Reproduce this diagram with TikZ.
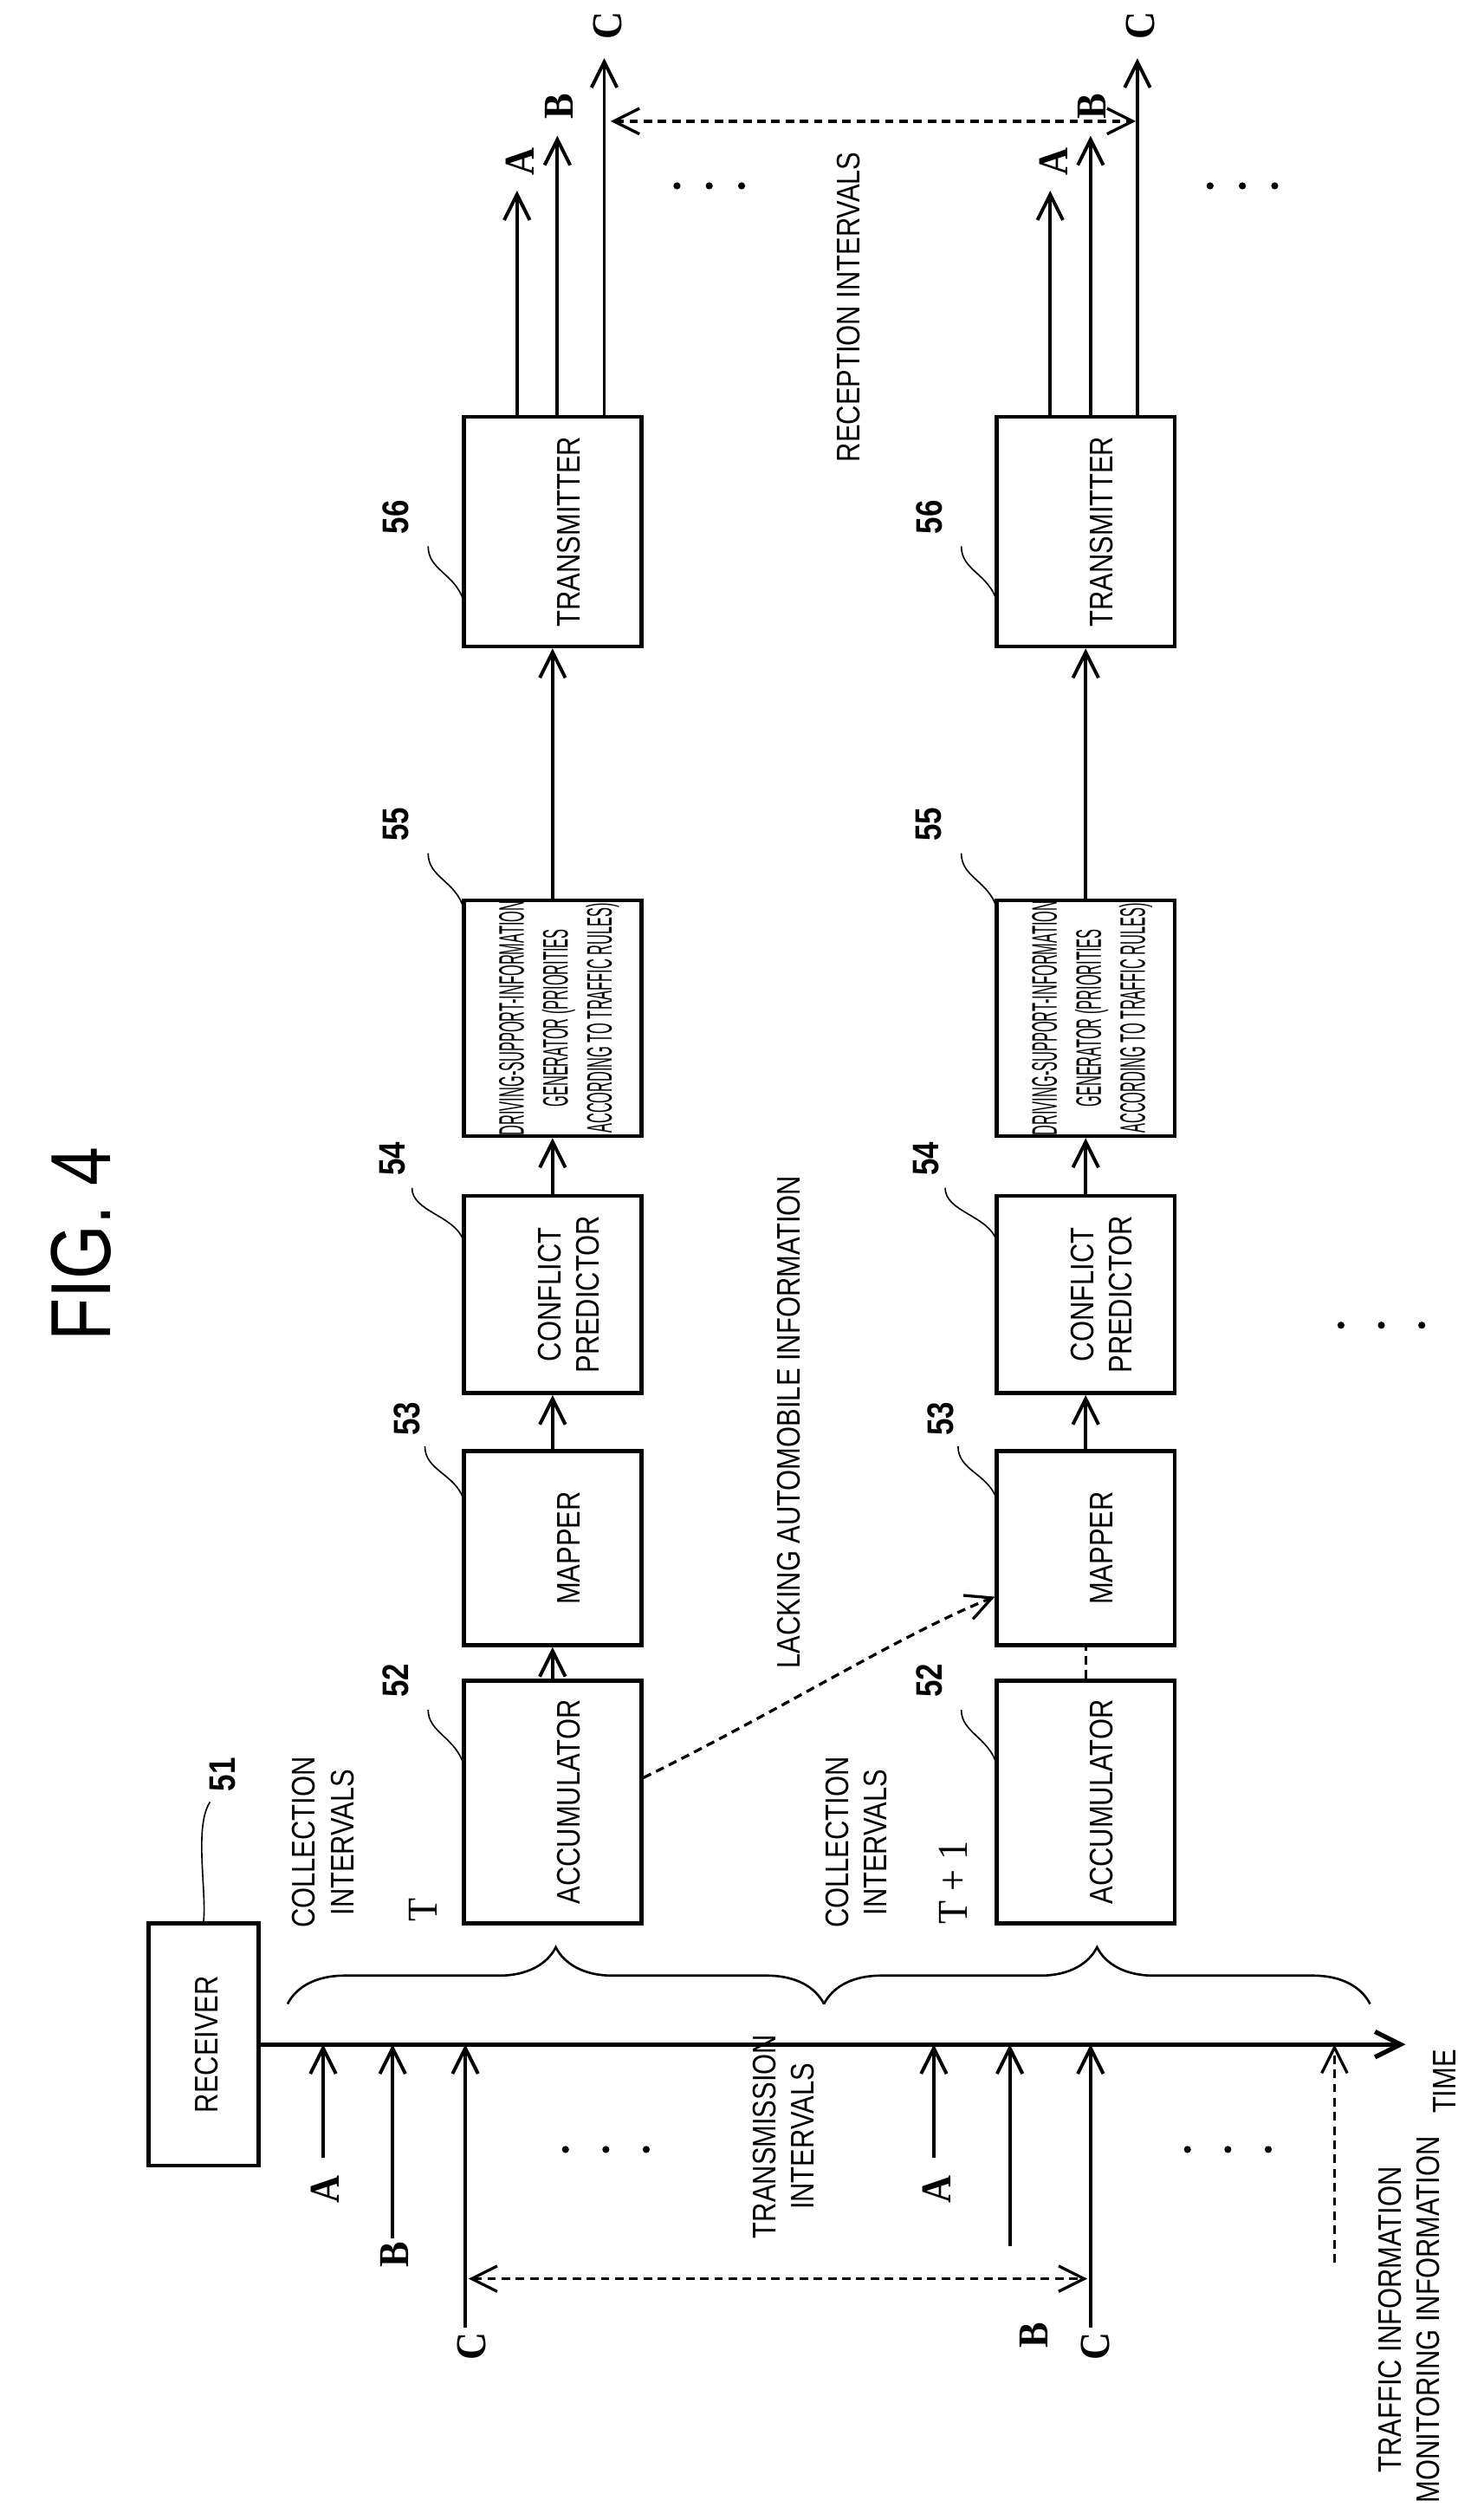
\documentclass[tikz,border=0pt]{standalone}
\usepackage{fontspec}
\setmainfont{Liberation Sans}[FakeStretch=0.82]
\newfontfamily\abcfont{Liberation Serif}[FakeStretch=0.9]
\newfontfamily\narrowfont{Liberation Sans}[FakeStretch=0.4]
\usetikzlibrary{positioning,arrows.meta,decorations.pathreplacing}

\tikzset{
  blk/.style={draw, line width=1.4pt, rotate=90, inner sep=0pt},
  txt/.style={rotate=90, align=center, font=\fontsize{11.5}{13.5}\selectfont},
  ref/.style={rotate=90, font=\fontsize{13}{13}\selectfont\bfseries},
  abc/.style={rotate=90, font=\fontsize{15}{15}\selectfont\abcfont\bfseries},
  sig/.style={line width=1.2pt, -{Straight Barb[length=9pt,width=9pt]}},
  dsh/.style={densely dashed, line width=1pt},
  lead/.style={line width=0.5pt},
}

\begin{document}
\begin{tikzpicture}[x=0.02cm, y=-0.02cm]
  \useasboundingbox (0,0) rectangle (910,1559.3);

  \node[rotate=90, font=\fontsize{30}{30}\selectfont] (fig) at (50,770) {FIG. 4};

  % two processing rows
  \foreach \r/\cx in {1/342, 2/672} {
    \node[blk, minimum width=3cm, minimum height=2.2cm] (acc\r) at (\cx,1115) {};
    \node[blk, minimum width=2.4cm, minimum height=2.2cm] (map\r) at (\cx,958) {};
    \node[blk, minimum width=2.44cm, minimum height=2.2cm] (con\r) at (\cx,801) {};
    \node[blk, minimum width=2.92cm, minimum height=2.2cm] (drv\r) at (\cx,630) {};
    \node[blk, minimum width=2.84cm, minimum height=2.2cm] (trn\r) at (\cx,329) {};
    \node[txt] at (\cx+10,1115) {ACCUMULATOR};
    \node[txt] at (\cx+10,958) {MAPPER};
    \node[txt] at (\cx+10,801) {CONFLICT\\PREDICTOR};
    \node[txt, font=\fontsize{12.5}{15.5}\narrowfont] at (\cx+4,630) {DRIVING-SUPPORT-INFORMATION\\GENERATOR (PRIORITIES\\ACCORDING TO TRAFFIC RULES)};
    \node[txt] at (\cx+10,329) {TRANSMITTER};
    \draw[sig] (map\r) -- (con\r);
    \draw[sig] (con\r) -- (drv\r);
    \draw[sig] (drv\r) -- (trn\r);
    % reference numerals
    \node[ref] (n52\r) at (\cx-97,1040) {52};
    \node[ref] (n53\r) at (\cx-90,878) {53};
    \node[ref] (n54\r) at (\cx-99,717) {54};
    \node[ref] (n55\r) at (\cx-97,510) {55};
    \node[ref] (n56\r) at (\cx-97,320) {56};
    \draw[lead] (\cx-77,1058) .. controls (\cx-77,1072) and (\cx-60,1075) .. (\cx-55,1092);
    \draw[lead] (\cx-79,895) .. controls (\cx-79,910) and (\cx-60,912) .. (\cx-55,928);
    \draw[lead] (\cx-87,735) .. controls (\cx-87,750) and (\cx-60,752) .. (\cx-55,768);
    \draw[lead] (\cx-77,528) .. controls (\cx-77,543) and (\cx-60,545) .. (\cx-55,562);
    \draw[lead] (\cx-77,338) .. controls (\cx-77,353) and (\cx-60,355) .. (\cx-55,372);
    % outputs
    \coordinate (oA\r) at (\cx-22,118);
    \coordinate (oB\r) at (\cx+3,84);
    \coordinate (oC\r) at (\cx+32,36);
    \draw[sig] (trn\r.east -| oA\r) -- (oA\r);
    \draw[sig] (trn\r.east -| oB\r) -- (oB\r);
    \draw[sig] (trn\r.east -| oC\r) -- (oC\r);
    \node[abc] at (\cx-20,100) {A};
    \node[abc] at (\cx+4,66) {B};
    \node[abc] at (\cx+34,16) {C};
    \foreach \d in {0,20,40} \fill (\cx+77+\d,115) circle (2.2);
  }
  \draw[sig] (acc1) -- (map1);
  \draw[dsh] (acc2) -- (map2);
  \draw[dsh, -{Straight Barb[length=9pt,width=9pt]}] (acc1.south |- 0,1100) .. controls (480,1060) and (560,1010) .. (map2.north |- 0,988);
  \node[txt] at (488,880) {LACKING AUTOMOBILE INFORMATION};

  \coordinate (rA) at (378,75);
  \coordinate (rB) at (703,75);
  \draw[dsh, {Straight Barb[length=9pt,width=9pt]}-{Straight Barb[length=9pt,width=9pt]}] (rA) -- (rB);
  \node[txt] at (525,190) {RECEPTION INTERVALS};

  % receiver and time axis
  \node[blk, minimum width=3cm, minimum height=1.36cm] (rcv) at (126,1265) {};
  \node[txt] at (128,1265) {RECEIVER};
  \node[ref] (n51) at (138,1098) {51};
  \draw[lead] (130,1115) .. controls (120,1130) and (128,1170) .. (rcv.east);
  \coordinate (tEnd) at (870,1265);
  \draw[sig, line width=1.6pt] (rcv.south) -- (tEnd);
  \node[txt] at (894,1288) {TIME};

  \foreach \name/\x/\y in {iA1/200/1335, iB1/243/1385, iC1/288/1440, iA2/578/1335, iB2/625/1390, iC2/675/1440} {
    \coordinate (\name) at (\x,\y);
    \coordinate (\name t) at (\x,1265);
    \draw[sig] (\name) -- (\name t);
  }
  \node[abc] at (201,1355) {A};
  \node[abc] at (244,1395) {B};
  \node[abc] at (292,1452) {C};
  \node[abc] at (580,1355) {A};
  \node[abc] at (678,1452) {C};
  \node[abc] at (640,1445) {B};
  \coordinate (iT) at (826,1400);
  \coordinate (iTt) at (826,1265);
  \draw[dsh, -{Straight Barb[length=9pt,width=9pt]}] (iT) -- (iTt);
  \node[txt, anchor=west] at (872,1555) {TRAFFIC INFORMATION\\MONITORING INFORMATION};

  \coordinate (xA) at (290,1410);
  \coordinate (xB) at (673,1410);
  \draw[dsh, {Straight Barb[length=9pt,width=9pt]}-{Straight Barb[length=9pt,width=9pt]}] (xA) -- (xB);
  \node[txt] at (485,1322) {TRANSMISSION\\INTERVALS};
  \foreach \d in {0,25,50} {
    \fill (350+\d,1330) circle (2.2);
    \fill (735+\d,1330) circle (2.2);
  }
  \foreach \d in {0,25,50} \fill (830+\d,820) circle (2.2);

  % collection braces
  \draw[line width=0.8pt, decorate, decoration={brace, amplitude=20pt}] (178,1240) -- (510,1240);
  \draw[line width=0.8pt, decorate, decoration={brace, amplitude=20pt}] (510,1240) -- (848,1240);
  \node[txt] at (200,1140) {COLLECTION\\INTERVALS};
  \node[txt] at (530,1140) {COLLECTION\\INTERVALS};
  \node[rotate=90, font=\fontsize{15}{15}\selectfont\abcfont] at (262,1182) {T};
  \node[rotate=90, font=\fontsize{15}{15}\selectfont\abcfont] at (590,1165) {T + 1};
\end{tikzpicture}
\end{document}
